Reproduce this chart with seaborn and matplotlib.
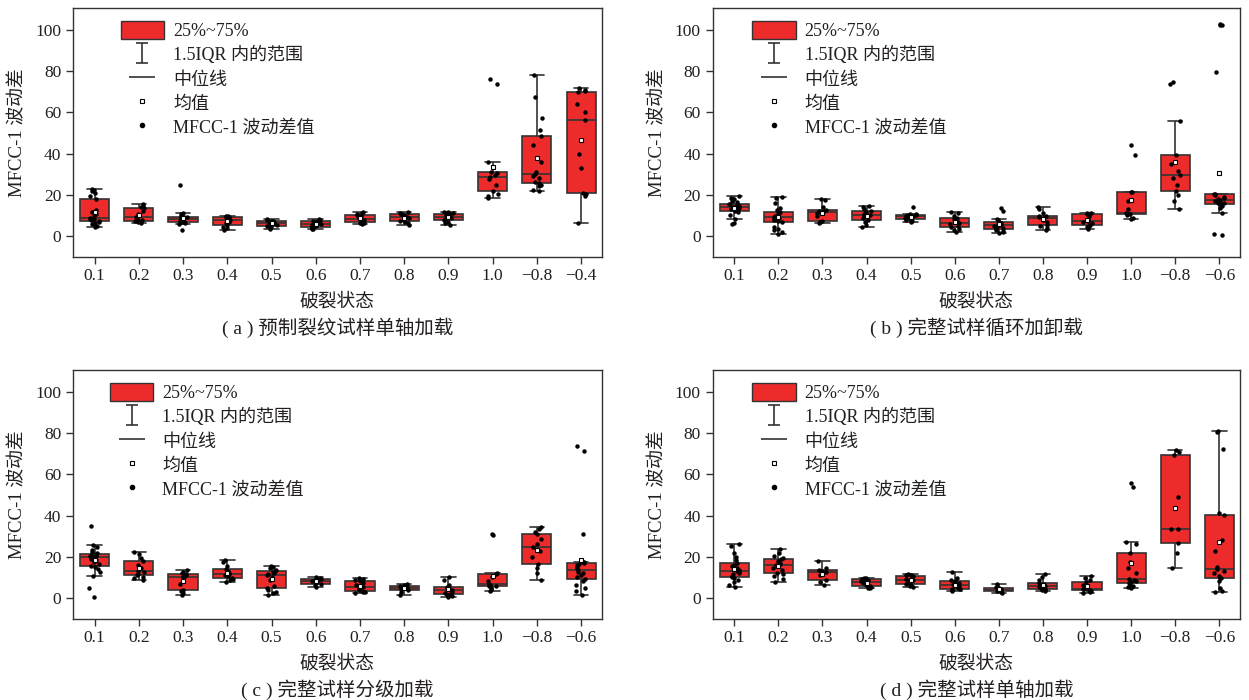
import matplotlib
import matplotlib.pyplot as plt
import numpy as np
import pandas as pd
import seaborn as sns
from matplotlib.lines import Line2D
from matplotlib.patches import Patch
from matplotlib.path import Path

matplotlib.use("Agg")

# categories (fracture states)
STATES_A = ["0.1", "0.2", "0.3", "0.4", "0.5", "0.6", "0.7", "0.8", "0.9", "1.0", "\u22120.8", "\u22120.4"]
STATES_BCD = ["0.1", "0.2", "0.3", "0.4", "0.5", "0.6", "0.7", "0.8", "0.9", "1.0", "\u22120.8", "\u22120.6"]

# MFCC-1 fluctuation values per state
PANEL_A = [
    [4.2, 5.0, 5.8, 6.3, 6.9, 7.3, 7.6, 7.9, 8.2, 8.4, 8.6, 9.5, 10.5, 11.5, 12.5, 18.0, 19.5, 21.0, 22.0, 22.5, 23.0],
    [6.5, 6.9, 7.1, 7.3, 8.0, 8.8, 9.4, 10.5, 12.0, 13.4, 14.0, 14.8, 15.4],
    [3.0, 5.7, 6.2, 6.6, 7.0, 7.4, 7.8, 8.1, 8.3, 8.6, 8.9, 9.2, 9.4, 9.9, 10.6, 11.3, 24.8],
    [2.9, 3.8, 4.6, 5.3, 6.2, 7.0, 7.8, 8.3, 8.8, 9.2, 9.4, 9.7, 9.9],
    [3.6, 4.3, 4.7, 5.0, 5.5, 5.9, 6.2, 6.5, 6.8, 7.1, 7.5, 7.9, 8.3],
    [3.2, 3.6, 3.9, 4.2, 4.8, 5.3, 5.8, 6.2, 6.7, 7.1, 7.5, 7.9, 8.3],
    [5.7, 6.2, 6.5, 6.8, 7.4, 7.9, 8.4, 9.0, 9.6, 10.2, 10.7, 11.2, 11.7],
    [5.2, 6.1, 6.8, 7.3, 8.0, 8.6, 9.1, 9.5, 10.0, 10.5, 10.9, 11.3, 11.7],
    [5.3, 6.4, 7.0, 7.6, 8.2, 8.7, 9.1, 9.6, 10.2, 10.8, 11.1, 11.5, 11.8],
    [18.3, 19.5, 20.5, 21.8, 25.0, 27.5, 28.6, 29.5, 30.5, 31.1, 35.8, 73.8, 76.4],
    [21.8, 22.5, 24.3, 25.0, 25.9, 26.4, 28.0, 29.0, 29.9, 31.0, 36.0, 44.0, 48.5, 51.5, 57.4, 67.3, 78.0],
    [6.3, 19.5, 20.5, 20.9, 33.0, 40.0, 56.3, 60.0, 64.0, 69.9, 70.5, 71.0, 71.8],
]

PANEL_B = [
    [6.0, 6.3, 8.2, 10.0, 11.5, 12.2, 12.8, 13.2, 13.6, 13.9, 14.1, 14.4, 14.8, 15.1, 15.4, 15.7, 16.3, 17.0, 17.8, 18.5, 19.2],
    [1.0, 2.0, 2.8, 3.5, 4.5, 6.6, 7.3, 8.0, 8.5, 9.0, 9.3, 9.8, 10.3, 10.8, 11.4, 11.9, 12.8, 13.5, 15.8, 18.5, 18.9],
    [6.1, 6.6, 7.0, 7.4, 9.5, 11.0, 11.7, 12.0, 12.4, 12.8, 14.0, 17.6, 18.1],
    [4.5, 5.5, 6.8, 7.8, 8.8, 9.5, 10.1, 10.8, 11.5, 12.2, 13.0, 14.0, 14.6],
    [6.7, 7.2, 7.8, 8.3, 8.8, 9.2, 9.5, 9.7, 10.0, 10.4, 10.6, 10.9, 14.0],
    [1.8, 2.8, 3.6, 4.2, 5.0, 5.8, 6.4, 7.2, 8.2, 9.0, 9.8, 11.0, 11.9],
    [1.4, 2.0, 2.6, 3.0, 3.5, 4.0, 4.5, 5.0, 5.3, 5.8, 6.2, 6.6, 6.9, 7.6, 8.5, 12.4, 13.8],
    [2.9, 4.0, 4.8, 5.6, 6.8, 8.0, 9.0, 9.3, 9.6, 9.9, 11.0, 13.0, 14.1],
    [3.5, 4.2, 4.8, 5.3, 6.2, 7.0, 7.5, 8.5, 9.5, 10.6, 10.8, 11.0, 11.2],
    [8.3, 9.0, 10.0, 10.9, 11.0, 11.2, 11.4, 13.0, 17.0, 21.3, 21.3, 39.4, 44.2],
    [13.1, 17.0, 20.0, 21.8, 25.0, 28.0, 29.8, 31.5, 35.0, 39.3, 55.8, 73.6, 74.5],
    [0.5, 1.0, 11.4, 13.5, 14.5, 15.4, 15.8, 16.2, 16.6, 17.0, 17.3, 17.8, 18.3, 19.0, 19.8, 20.5, 20.5, 79.8, 102.2, 102.6, 103.0],
]

PANEL_C = [
    [0.6, 5.0, 10.8, 12.5, 14.0, 15.0, 15.5, 16.5, 17.5, 18.2, 18.8, 19.3, 19.7, 20.0, 20.2, 20.4, 20.6, 20.9, 21.1, 21.8, 22.5, 23.5, 24.5, 25.9, 34.9],
    [8.7, 9.5, 10.3, 11.1, 11.8, 12.5, 13.2, 14.5, 16.0, 17.7, 19.5, 21.5, 22.4],
    [1.6, 2.5, 3.2, 4.0, 7.0, 9.5, 10.3, 10.6, 11.0, 11.4, 12.0, 12.8, 13.5],
    [7.9, 8.5, 9.0, 9.5, 10.5, 11.0, 11.6, 12.2, 13.0, 13.9, 15.5, 17.5, 18.4],
    [1.4, 2.2, 3.0, 4.0, 4.8, 6.0, 8.5, 10.0, 11.3, 11.8, 12.3, 12.8, 13.2, 13.8, 14.4, 15.0, 15.3],
    [5.3, 6.2, 6.9, 7.6, 8.2, 8.8, 9.3, 9.8, 10.3],
    [2.6, 2.8, 3.0, 3.2, 4.0, 4.8, 5.5, 6.3, 7.2, 8.1, 8.6, 9.2, 9.8],
    [1.6, 2.8, 3.9, 4.3, 4.8, 5.3, 5.9, 6.3, 6.8],
    [0.3, 0.8, 1.3, 1.8, 2.5, 3.1, 3.7, 4.2, 4.8, 5.5, 6.5, 8.5, 10.3],
    [3.2, 4.0, 4.8, 5.6, 6.0, 6.5, 6.9, 8.0, 10.0, 11.7, 12.2, 30.5, 31.0],
    [8.7, 12.0, 14.5, 16.4, 20.0, 23.0, 24.8, 26.0, 28.5, 30.8, 32.0, 33.5, 34.3],
    [1.5, 3.5, 5.0, 6.5, 8.0, 9.2, 10.0, 11.0, 12.0, 12.8, 13.5, 14.3, 15.0, 15.8, 16.5, 17.0, 17.3, 17.5, 31.0, 71.5, 74.0],
]

PANEL_D = [
    [5.4, 6.5, 7.5, 8.5, 9.5, 10.2, 10.8, 11.5, 12.0, 12.5, 13.0, 13.8, 14.5, 15.3, 16.2, 17.0, 18.5, 20.0, 22.0, 25.0, 26.3],
    [7.8, 9.0, 10.5, 11.5, 12.3, 13.5, 14.5, 15.3, 15.9, 16.5, 17.2, 18.0, 18.9, 19.5, 20.5, 22.0, 23.6],
    [6.4, 7.5, 8.7, 11.0, 12.5, 13.0, 13.5, 14.5, 18.1],
    [4.6, 5.0, 5.4, 5.8, 6.5, 7.2, 7.8, 8.2, 8.7, 9.1, 9.4, 9.7, 9.9],
    [5.1, 5.6, 6.1, 6.6, 7.3, 8.0, 8.7, 9.3, 10.0, 10.6, 10.9, 11.2, 11.5],
    [3.2, 3.7, 4.1, 4.5, 5.0, 5.6, 6.1, 6.6, 7.3, 8.0, 8.5, 9.5, 12.5],
    [2.2, 2.9, 3.4, 3.7, 4.0, 4.4, 4.8, 5.5, 6.6],
    [3.5, 3.8, 4.0, 4.3, 4.9, 5.4, 5.8, 6.3, 6.9, 7.4, 8.5, 10.0, 11.4],
    [2.6, 3.0, 3.4, 3.8, 4.0, 4.3, 4.5, 5.3, 6.5, 7.7, 8.5, 9.8, 10.6],
    [4.8, 5.5, 6.0, 6.5, 7.1, 7.6, 8.0, 8.5, 9.0, 12.0, 14.5, 17.5, 21.8, 26.0, 27.1, 54.0, 55.6],
    [14.3, 21.8, 26.9, 33.5, 33.7, 49.0, 69.6, 71.0, 71.6],
    [3.0, 3.2, 5.0, 8.0, 9.5, 10.5, 12.0, 13.0, 13.9, 15.0, 23.0, 28.0, 40.4, 41.0, 72.4, 80.5, 80.9],
]

CAPTIONS = [
    "( a ) 预制裂纹试样单轴加载",
    "( b ) 完整试样循环加卸载",
    "( c ) 完整试样分级加载",
    "( d ) 完整试样单轴加载",
]

LEGEND_LABELS = ["25%~75%", "1.5IQR 内的范围", "中位线", "均值", "MFCC-1 波动差值"]

RED = "#ee2b2b"
EDGE = "#333333"
TEXT = "#231f20"
FONTS = ["Liberation Serif", "Noto Sans CJK SC"]


def to_frame(states, values):
    rows = []
    for state, vals in zip(states, values):
        for v in vals:
            rows.append({"state": state, "value": v})
    return pd.DataFrame(rows)


def legend_handles():
    ibeam = Path(
        [(-0.6, -1), (0.6, -1), (0, -1), (0, 1), (-0.6, 1), (0.6, 1)],
        [Path.MOVETO, Path.LINETO, Path.MOVETO, Path.LINETO, Path.MOVETO, Path.LINETO],
    )
    hline = Path([(-1, 0), (1, 0)], [Path.MOVETO, Path.LINETO])
    return [
        Patch(facecolor=RED, edgecolor=EDGE, linewidth=1.0),
        Line2D([], [], linestyle="none", marker=ibeam, markersize=14.5,
               markerfacecolor="none", markeredgecolor=EDGE, markeredgewidth=1.2),
        Line2D([], [], linestyle="none", marker=hline, markersize=18.5,
               markerfacecolor="none", markeredgecolor=EDGE, markeredgewidth=1.2),
        Line2D([], [], linestyle="none", marker="s", markersize=3.2,
               markerfacecolor="white", markeredgecolor="black", markeredgewidth=0.8),
        Line2D([], [], linestyle="none", marker="o", markersize=3.0, color="black"),
    ]


def draw_panel(ax, states, values, caption, legend_x):
    df = to_frame(states, values)
    sns.boxplot(
        data=df, x="state", y="value", order=states, ax=ax,
        color=RED, saturation=1, linecolor=EDGE, linewidth=1.2,
        width=0.66, whis=1.5, showfliers=False, showmeans=True,
        meanprops=dict(marker="s", markerfacecolor="white", markeredgecolor="black",
                       markersize=3.2, markeredgewidth=0.8),
    )
    sns.stripplot(
        data=df, x="state", y="value", order=states, ax=ax,
        color="black", size=3.2, jitter=0.12, zorder=4,
    )
    for line in ax.lines:
        if line.get_marker() == "s":
            line.set_zorder(6)

    ax.set_xlim(-0.49, 11.47)
    ax.set_ylim(-10, 110.5)
    ax.set_yticks([0, 20, 40, 60, 80, 100])
    ax.set_xlabel("破裂状态", fontsize=13.5, color=TEXT, labelpad=6)
    ax.set_ylabel("MFCC-1 波动差", fontsize=13.5, color=TEXT, labelpad=6)
    ax.tick_params(direction="out", length=5, width=1, colors=EDGE, labelcolor=TEXT,
                   labelsize=12.5, top=False, right=False)
    for spine in ax.spines.values():
        spine.set_visible(True)
        spine.set_color(EDGE)
        spine.set_linewidth(1.0)

    ax.legend(
        legend_handles(), LEGEND_LABELS, loc="upper left",
        bbox_to_anchor=(legend_x, 0.948), frameon=False, fontsize=13,
        borderpad=0, borderaxespad=0, handlelength=2.4, handleheight=1.15,
        handletextpad=0.5, labelspacing=0.28, numpoints=1, labelcolor=TEXT,
    )
    ax.text(0.5, -0.285, caption, transform=ax.transAxes, ha="center", va="center",
            fontsize=14, color=TEXT)


def main():
    np.random.seed(3)
    sns.set_style("ticks")
    plt.rcParams["font.family"] = FONTS
    plt.rcParams["axes.unicode_minus"] = False

    fig = plt.figure(figsize=(12.49, 7.0), dpi=100, facecolor="white")
    positions = [
        [0.0584, 0.6333, 0.4235, 0.3549],
        [0.5706, 0.6333, 0.4222, 0.3549],
        [0.0584, 0.1164, 0.4235, 0.3545],
        [0.5706, 0.1164, 0.4222, 0.3545],
    ]
    panels = [
        (STATES_A, PANEL_A, 0.09),
        (STATES_BCD, PANEL_B, 0.075),
        (STATES_BCD, PANEL_C, 0.07),
        (STATES_BCD, PANEL_D, 0.075),
    ]
    for pos, (states, values, lx), caption in zip(positions, panels, CAPTIONS):
        ax = fig.add_axes(pos)
        draw_panel(ax, states, values, caption, lx)

    fig.savefig("out.png", dpi=100)
    plt.close(fig)


if __name__ == "__main__":
    main()
